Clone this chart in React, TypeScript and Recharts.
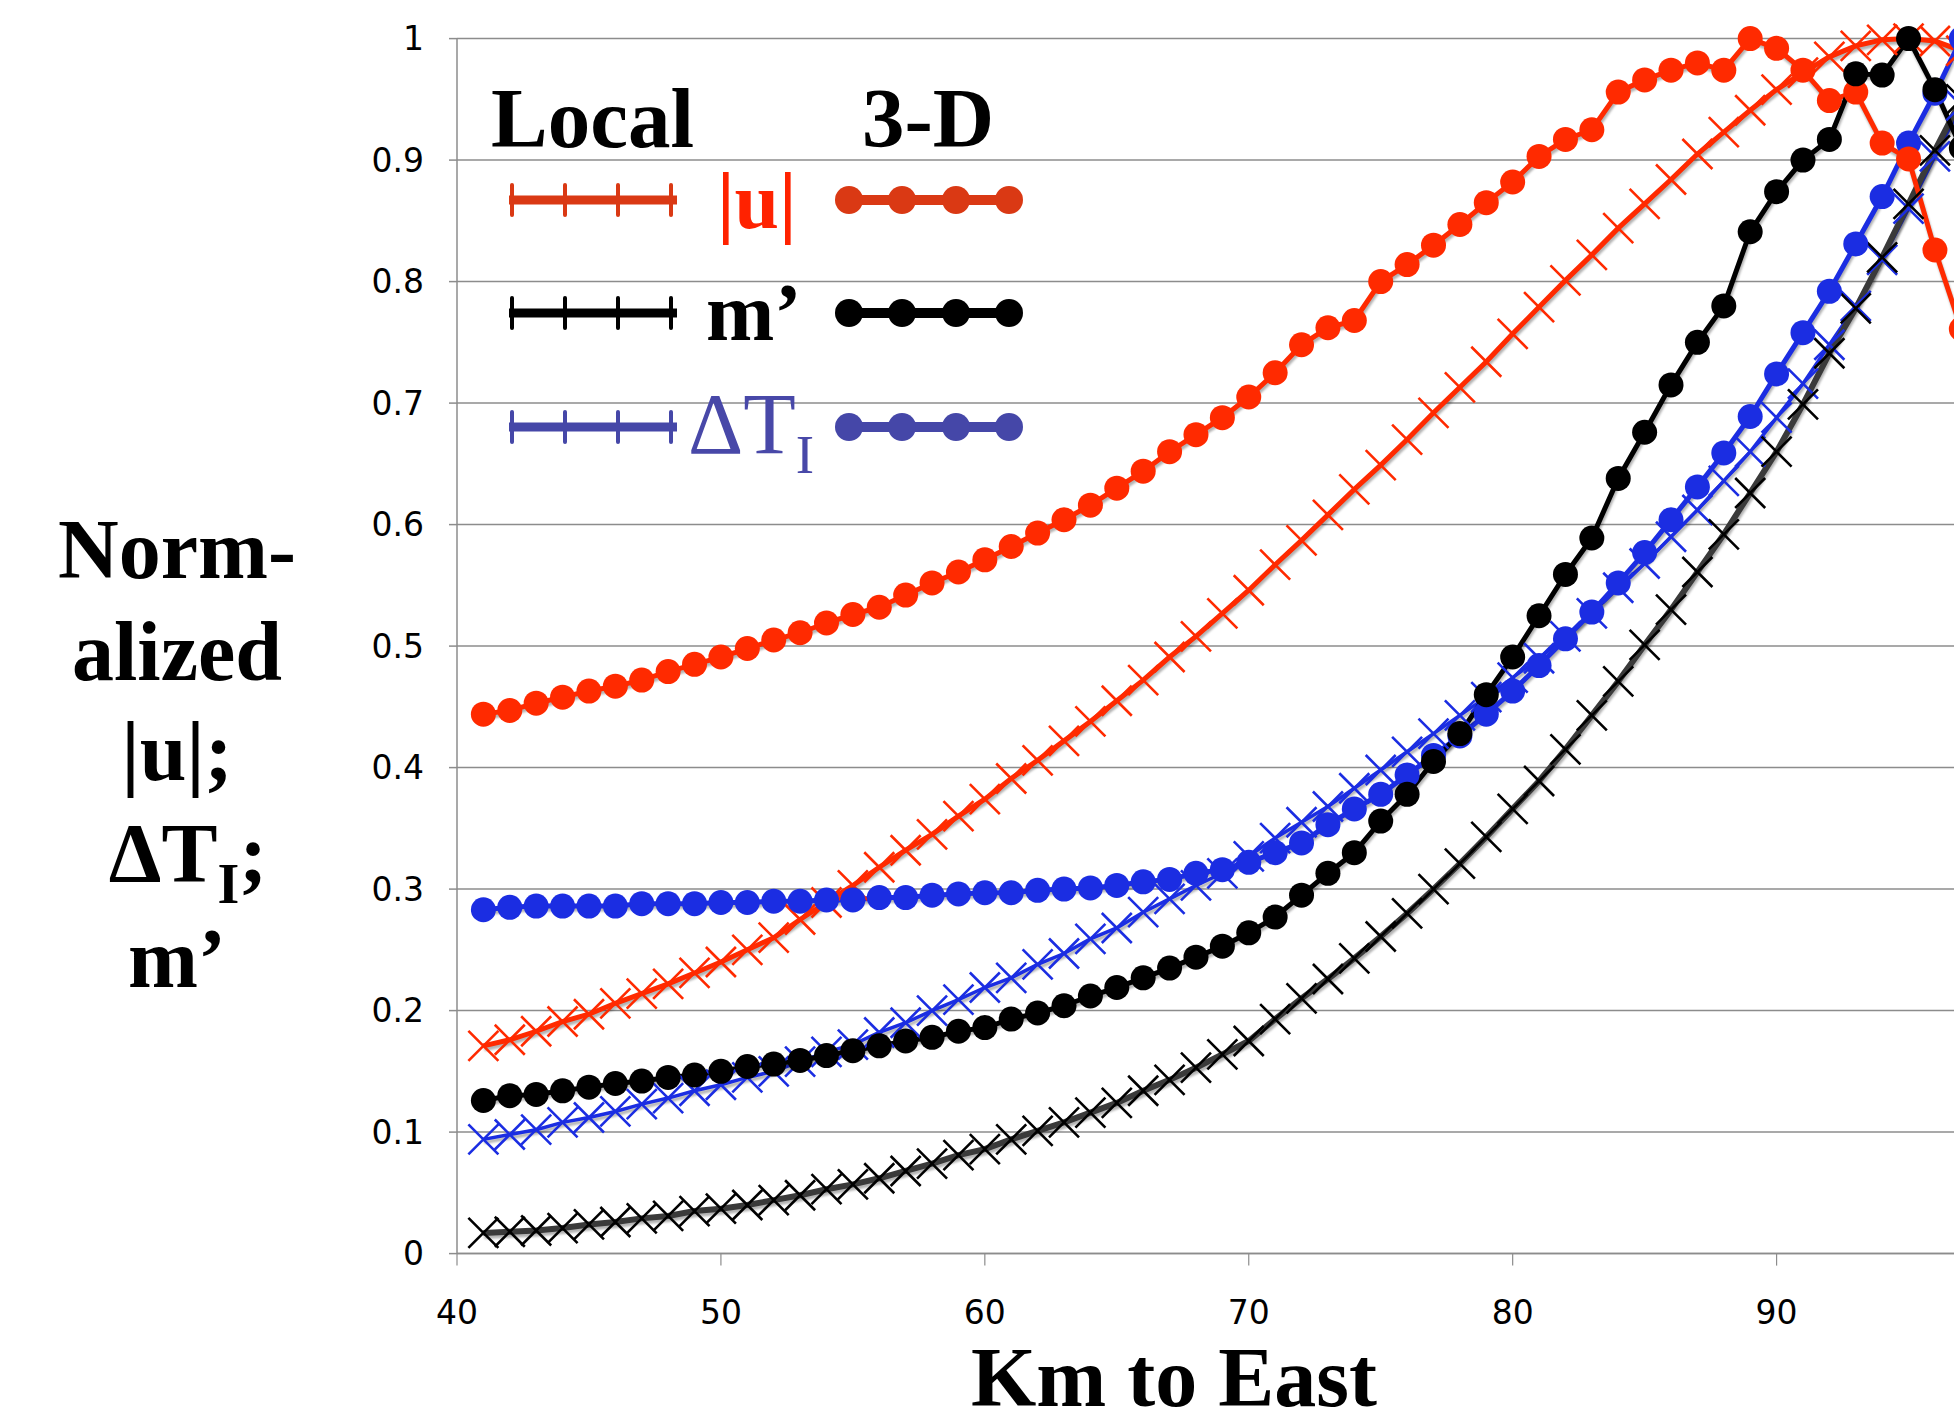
import { LineChart, Line, XAxis, YAxis, CartesianGrid } from "recharts";

// km to east, one point per km
const km = [
  41, 42, 43, 44, 45, 46, 47, 48, 49, 50, 51, 52, 53, 54, 55, 56, 57, 58, 59,
  60, 61, 62, 63, 64, 65, 66, 67, 68, 69, 70, 71, 72, 73, 74, 75, 76, 77, 78,
  79, 80, 81, 82, 83, 84, 85, 86, 87, 88, 89, 90, 91, 92, 93, 94, 95, 96, 97,
];

// Local |u|
const localU = [
  0.171, 0.176, 0.183, 0.191, 0.197, 0.206, 0.214, 0.222, 0.231, 0.24, 0.25,
  0.26, 0.275, 0.289, 0.303, 0.318, 0.332, 0.345, 0.36, 0.374, 0.391, 0.406,
  0.422, 0.438, 0.455, 0.472, 0.491, 0.508, 0.527, 0.546, 0.567, 0.587, 0.608,
  0.629, 0.649, 0.67, 0.692, 0.713, 0.734, 0.757, 0.779, 0.801, 0.822, 0.844,
  0.864, 0.884, 0.905, 0.923, 0.941, 0.958, 0.972, 0.985, 0.994, 0.999, 1.0,
  0.998, 0.99,
];

// 3-D |u|
const u3d = [
  0.444, 0.447, 0.453, 0.458, 0.463, 0.467, 0.472, 0.479, 0.485, 0.491, 0.498,
  0.505, 0.511, 0.519, 0.526, 0.532, 0.542, 0.552, 0.561, 0.571, 0.582, 0.593,
  0.604, 0.616, 0.63, 0.644, 0.66, 0.674, 0.688, 0.705, 0.725, 0.748, 0.762,
  0.768, 0.8, 0.814, 0.83, 0.847, 0.865, 0.882, 0.903, 0.917, 0.925, 0.956,
  0.966, 0.974, 0.98, 0.974, 1.0, 0.992, 0.974, 0.949, 0.956, 0.914, 0.901,
  0.826, 0.761,
];

// Local m'
const localM = [
  0.017, 0.018, 0.019, 0.021, 0.024, 0.026, 0.029, 0.031, 0.035, 0.037, 0.04,
  0.044, 0.048, 0.053, 0.057, 0.062, 0.068, 0.074, 0.081, 0.086, 0.094, 0.101,
  0.108, 0.116, 0.124, 0.134, 0.143, 0.153, 0.164, 0.175, 0.193, 0.21, 0.226,
  0.243, 0.261, 0.28, 0.3, 0.321, 0.343, 0.366, 0.389, 0.415, 0.443, 0.471,
  0.501, 0.53, 0.561, 0.592, 0.626, 0.66, 0.699, 0.741, 0.778, 0.82, 0.864,
  0.908, 0.95,
];

// 3-D m'
const m3d = [
  0.126, 0.13, 0.131, 0.134, 0.137, 0.14, 0.142, 0.145, 0.147, 0.15, 0.154,
  0.156, 0.159, 0.163, 0.167, 0.171, 0.175, 0.178, 0.183, 0.186, 0.193, 0.198,
  0.204, 0.212, 0.219, 0.227, 0.235, 0.244, 0.253, 0.264, 0.277, 0.295, 0.313,
  0.33, 0.356, 0.378, 0.405, 0.428, 0.46, 0.491, 0.525, 0.559, 0.589, 0.638,
  0.676, 0.715, 0.75, 0.78, 0.841, 0.874, 0.9, 0.917, 0.971, 0.97, 1.0, 0.958,
  0.91,
];

// Local delta T_I
const localDT = [
  0.094, 0.098, 0.102, 0.108, 0.112, 0.117, 0.123, 0.128, 0.134, 0.139, 0.145,
  0.15, 0.158, 0.166, 0.172, 0.182, 0.19, 0.2, 0.209, 0.219, 0.227, 0.238,
  0.247, 0.259, 0.268, 0.281, 0.292, 0.303, 0.313, 0.327, 0.342, 0.355, 0.368,
  0.383, 0.398, 0.413, 0.428, 0.443, 0.458, 0.474, 0.49, 0.508, 0.527, 0.548,
  0.568, 0.59, 0.612, 0.636, 0.66, 0.688, 0.716, 0.748, 0.78, 0.818, 0.86,
  0.903, 0.945,
];

// 3-D delta T_I
const dt3d = [
  0.283, 0.285, 0.286, 0.286, 0.286, 0.286, 0.288, 0.288, 0.288, 0.289, 0.289,
  0.29, 0.29, 0.291, 0.291, 0.293, 0.293, 0.295, 0.296, 0.297, 0.297, 0.299,
  0.3, 0.301, 0.303, 0.306, 0.308, 0.313, 0.316, 0.322, 0.33, 0.338, 0.353,
  0.366, 0.378, 0.394, 0.41, 0.426, 0.444, 0.463, 0.484, 0.506, 0.528, 0.552,
  0.577, 0.604, 0.631, 0.659, 0.689, 0.724, 0.758, 0.792, 0.831, 0.87, 0.914,
  0.955, 1.0,
];

const xTicks = [40, 50, 60, 70, 80, 90];
const yTicks = [0, 0.1, 0.2, 0.3, 0.4, 0.5, 0.6, 0.7, 0.8, 0.9, 1];

const data = km.map((k, i) => ({
  km: k,
  localU: localU[i],
  u3d: u3d[i],
  localM: localM[i],
  m3d: m3d[i],
  localDT: localDT[i],
  dt3d: dt3d[i],
}));

const RED = "#ff2a00";
const BLUE = "#1b2de2";
const GRID = "#8c8c8c";
const SERIF = "'Liberation Serif', 'Times New Roman', serif";

// x shaped marker for the "Local" series
const cross = (color: string) => (p: any) => {
  const { cx, cy, index } = p;
  if (cx == null || cy == null) return <g key={`c${index}`} />;
  const s = 15;
  return (
    <path
      key={`c${index}`}
      d={`M${cx - s},${cy - s}L${cx + s},${cy + s}M${cx - s},${cy + s}L${cx + s},${cy - s}`}
      stroke={color}
      strokeWidth={2.6}
      fill="none"
    />
  );
};

function LegendRow({ y, color }: { y: number; color: string }) {
  return (
    <g>
      <line x1={509} x2={677} y1={y} y2={y} stroke={color} strokeWidth={9} />
      {[512, 565, 618, 671].map((x) => (
        <line key={x} x1={x} x2={x} y1={y - 15} y2={y + 15} stroke={color} strokeWidth={4} strokeLinecap="round" />
      ))}
      <line x1={849} x2={1009} y1={y} y2={y} stroke={color} strokeWidth={10} />
      {[849, 902, 956, 1009].map((x) => (
        <circle key={x} cx={x} cy={y} r={14} fill={color} />
      ))}
    </g>
  );
}

export default function App() {
  return (
    <div
      style={{
        position: "absolute",
        left: 0,
        top: 0,
        width: 1954,
        height: 1418,
        overflow: "hidden",
        background: "#fff",
      }}
    >
      <style>{`.recharts-line { filter: drop-shadow(1px 3px 1.2px rgba(0,0,0,0.3)); }`}</style>
      <LineChart
        width={2060}
        height={1418}
        data={data}
        margin={{ top: 38.6, right: 19.5, bottom: 84.4, left: 0 }}
      >
        <CartesianGrid vertical={false} stroke={GRID} strokeWidth={1.5} />
        <XAxis
          type="number"
          dataKey="km"
          domain={[40, 100]}
          ticks={xTicks}
          height={80}
          tickSize={12}
          tickMargin={35}
          axisLine={{ stroke: GRID, strokeWidth: 1.5 }}
          tickLine={{ stroke: GRID, strokeWidth: 1.2 }}
          tick={{ fill: "#000", fontSize: 33, fontFamily: "'DejaVu Sans'" }}
        />
        <YAxis
          domain={[0, 1]}
          ticks={yTicks}
          width={457}
          tickSize={8}
          tickMargin={25}
          tickFormatter={(v: number) => String(+v.toFixed(1))}
          axisLine={{ stroke: GRID, strokeWidth: 1.5 }}
          tickLine={{ stroke: GRID, strokeWidth: 1.5 }}
          tick={{ fill: "#000", fontSize: 33, fontFamily: "'DejaVu Sans'" }}
        />
        <Line dataKey="localU" stroke={RED} strokeWidth={5} dot={cross(RED)} activeDot={false} isAnimationActive={false} />
        <Line dataKey="localDT" stroke={BLUE} strokeWidth={3.5} dot={cross(BLUE)} activeDot={false} isAnimationActive={false} />
        <Line dataKey="localM" stroke="#3a3a3a" strokeWidth={6} dot={cross("#000")} activeDot={false} isAnimationActive={false} />
        <Line dataKey="dt3d" stroke={BLUE} strokeWidth={5} dot={{ r: 12.5, fill: BLUE, stroke: BLUE, strokeWidth: 0 }} activeDot={false} isAnimationActive={false} />
        <Line dataKey="u3d" stroke={RED} strokeWidth={5} dot={{ r: 12.5, fill: RED, stroke: RED, strokeWidth: 0 }} activeDot={false} isAnimationActive={false} />
        <Line dataKey="m3d" stroke="#000" strokeWidth={5} dot={{ r: 12.5, fill: "#000", stroke: "#000", strokeWidth: 0 }} activeDot={false} isAnimationActive={false} />
      </LineChart>

      <svg
        width={1954}
        height={1418}
        style={{ position: "absolute", left: 0, top: 0, pointerEvents: "none" }}
      >
        <g fontFamily={SERIF} fontWeight="bold" fontSize={85} fill="#000">
          <text x={491} y={147}>Local</text>
          <text x={862} y={147}>3-D</text>
          <text x={717} y={228} fill="#ff2200" fontSize={80}>|u|</text>
          <text x={706} y={340} fontSize={82}>m’</text>
        </g>
        <text x={688} y={453} fontFamily={SERIF} fontSize={86} fill="#4848a8">
          ΔT<tspan fontSize={55} dy={20}>I</tspan>
        </text>
        <LegendRow y={200} color="#da3914" />
        <LegendRow y={313} color="#000" />
        <LegendRow y={427} color="#4547a8" />

        <g fontFamily={SERIF} fontWeight="bold" fontSize={84} fill="#000" textAnchor="middle">
          <text x={177} y={578}>Norm-</text>
          <text x={177} y={680}>alized</text>
          <text x={177} y={780}>|u|;</text>
          <text x={188} y={882}>
            ΔT<tspan fontSize={56} dy={21}>I</tspan>
            <tspan dy={-21}>;</tspan>
          </text>
          <text x={177} y={987}>m’</text>
        </g>
        <text
          x={1174}
          y={1406}
          fontFamily={SERIF}
          fontWeight="bold"
          fontSize={84}
          textAnchor="middle"
          fill="#000"
        >
          Km to East
        </text>
      </svg>
    </div>
  );
}
